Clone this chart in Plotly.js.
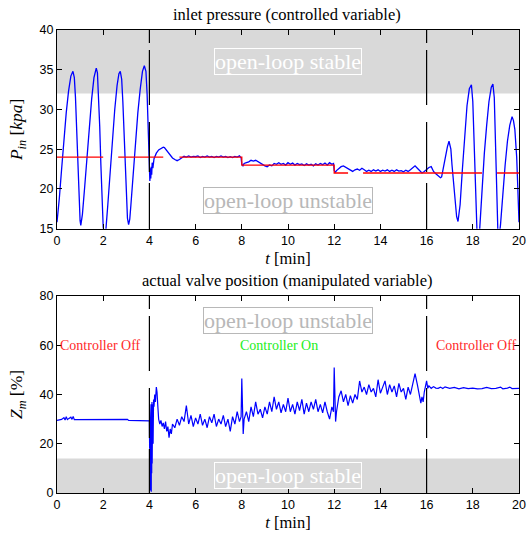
<!DOCTYPE html>
<html>
<head>
<meta charset="utf-8">
<script src="https://cdn.plot.ly/plotly-3.0.1.min.js"></script>
<style>html,body{margin:0;padding:0;background:#fff;}#chart{width:527px;height:537px;}</style>
</head>
<body>
<div id="chart"></div>
<script>
// ---- inlet pressure P_in [kPa] vs time [min] ----
const t_p = [
  0,0.05,0.1,0.2,0.3,0.4,0.5,0.6,0.69,0.75,0.8,0.85,0.9,0.95,
  1.0,1.03,1.1,1.2,1.3,1.4,1.5,1.6,1.7,1.75,1.8,1.85,1.9,1.95,
  2.0,2.06,2.12,2.2,2.3,2.4,2.5,2.6,2.68,2.74,2.8,2.85,2.9,2.95,
  3.0,3.05,3.1,3.15,3.2,3.3,3.4,3.5,3.6,3.7,3.78,3.85,3.9,3.95,3.98,
  4.0,4.02,4.04,4.06,4.08,4.1,4.12,4.15,4.2,4.3,4.4,4.5,4.6,4.65,4.7,4.8,4.9,5.0,5.1,5.2,5.3,5.4,
  5.5,5.6,5.7,5.8,5.9,6.0,6.1,6.2,6.3,6.4,6.5,6.6,6.7,6.8,6.9,7.0,7.1,7.2,7.3,7.4,7.5,7.6,7.7,7.8,7.9,7.97,
  8.0,8.05,8.1,8.2,8.3,8.4,8.5,8.6,8.7,8.8,8.9,9.0,9.1,9.2,9.3,9.4,9.5,9.6,9.7,9.8,9.9,
  10.0,10.1,10.2,10.3,10.4,10.5,10.6,10.7,10.8,10.9,11.0,11.1,11.2,11.3,11.4,11.5,11.6,11.7,11.8,11.9,11.97,
  12.0,12.05,12.1,12.2,12.3,12.4,12.5,12.6,12.7,12.8,12.9,13.0,13.1,13.2,13.3,13.4,13.5,13.6,13.7,13.8,13.9,
  14.0,14.1,14.2,14.3,14.4,14.5,14.6,14.7,14.8,14.9,15.0,15.1,15.2,15.3,15.4,15.5,15.6,15.7,15.8,15.9,
  16.0,16.1,16.2,16.3,16.4,16.5,16.6,16.65,16.7,16.8,16.9,16.97,17.05,17.1,17.2,17.3,17.36,17.45,17.55,17.65,17.75,17.85,17.94,
  18.0,18.05,18.1,18.15,18.2,18.3,18.4,18.5,18.6,18.7,18.8,18.87,18.93,19.0,19.05,19.1,19.2,19.3,19.4,19.5,19.6,19.7,19.76,19.82,19.9,19.95,20.0
];
const p_in = [
  15.8,17,18.8,22.5,26.3,29.6,32.3,34.2,34.8,34.0,31.5,27.5,23,19,
  16,15.4,16.8,20.3,24.2,28,31.3,34,35.2,34.6,32,27.8,23,18.5,
  15.2,14,15,18,22.2,26.3,30,33,34.5,34.8,33.8,31,27,22.5,
  18.8,16.3,15.5,16.2,18,22,26,29.6,32.5,34.8,35.5,34.8,32,28,25,
  23,21,22.6,21.3,22.8,21.8,23.3,22.6,23.8,24.5,24.9,25.1,25.25,25.2,25,24.6,24.2,23.9,23.7,23.55,23.7,23.9,
  24.1,24.0,24.15,24.0,24.1,24.05,24.15,23.95,24.1,24.0,24.15,24.0,24.1,23.95,24.1,24.0,24.15,24.0,24.1,23.95,24.05,23.95,24.1,24.0,24.15,23.9,
  23.1,22.9,23.2,23.3,23.4,23.6,23.5,23.6,23.4,23.2,23.0,22.9,22.8,23.0,22.9,23.2,23.1,23.3,23.1,23.2,23.0,
  23.3,23.1,23.25,23.0,23.2,23.05,23.15,22.95,23.15,23.0,23.1,22.9,23.15,23.0,23.2,23.05,23.25,23.0,23.3,23.1,23.2,
  22.3,22.1,22.3,22.6,22.8,22.9,22.7,22.5,22.3,22.2,22.4,22.5,22.35,22.6,22.4,22.2,22.35,22.2,22.4,22.25,22.4,
  22.2,22.35,22.25,22.4,22.2,22.35,22.2,22.4,22.25,22.3,22.15,22.35,22.2,22.4,22.6,22.9,22.6,22.3,22.0,22.2,
  22.5,22.7,22.8,22.2,21.9,21.6,21.4,21.5,22.3,23.8,25.3,26.0,25.0,23,19.5,16.5,15.9,18,22.5,27,30.5,32.6,33.1,
  31,26,20,15.5,13,15,20,24.5,28,31,32.8,33.2,31.5,25,18,13,15.5,19.5,23,26,28,29.1,28.6,27.5,24,20,15.8
];
// ---- setpoint (red, dashed segments) ----
const t_sp = [0,2.0,null,2.65,4.6,null,5.3,8.0,8.0,12.0,12.0,12.6,null,13.25,18.4,null,19.05,20];
const v_sp = [24,24,null,24,24,null,24,24,23,23,22,22,null,22,22,null,22,22];

// ---- actual valve position Z_m [%] vs time [min] ----
const t_z = [
  0,0.1,0.2,0.3,0.35,0.4,0.45,0.5,0.6,0.65,0.7,0.75,0.8,1.0,1.5,2.0,2.5,3.0,3.05,3.1,3.5,3.98,
  4.0,4.01,4.02,4.03,4.04,4.05,4.06,4.07,4.08,4.09,4.1,4.11,4.12,4.14,4.16,4.18,4.2,4.23,4.26,4.3,4.33,4.36,4.4,4.45,4.5,4.55,4.6,4.65,4.7,4.75,4.8,4.85,4.9,4.95,
  5.0,5.1,5.2,5.3,5.4,5.5,5.6,5.7,5.8,5.9,6.0,6.1,6.2,6.3,6.4,6.5,6.6,6.7,6.8,6.9,7.0,7.1,7.2,7.3,7.4,7.5,7.6,7.7,7.8,7.9,7.97,
  8.0,8.03,8.06,8.1,8.2,8.3,8.4,8.5,8.6,8.7,8.8,8.9,9.0,9.1,9.2,9.3,9.4,9.5,9.6,9.7,9.8,9.9,
  10.0,10.1,10.2,10.3,10.4,10.5,10.6,10.7,10.8,10.9,11.0,11.1,11.2,11.3,11.4,11.5,11.6,11.7,11.8,11.9,11.97,
  12.0,12.03,12.06,12.1,12.2,12.3,12.4,12.5,12.6,12.7,12.8,12.9,13.0,13.1,13.2,13.3,13.4,13.5,13.6,13.7,13.8,13.9,
  14.0,14.1,14.2,14.3,14.4,14.5,14.6,14.7,14.8,14.9,15.0,15.1,15.2,15.3,15.4,15.5,15.6,15.7,15.75,15.8,15.85,15.9,15.95,16.0,16.05,16.1,16.2,16.3,16.4,
  16.5,16.6,16.7,16.8,17.0,17.2,17.4,17.6,17.8,18.0,18.2,18.4,18.6,18.8,19.0,19.2,19.3,19.5,19.6,19.7,19.9,20.0
];
const z_m = [
  29.5,29.8,29.9,30.6,29.6,31.0,29.8,30.2,30.8,29.9,31.1,29.8,29.8,29.8,29.7,29.7,29.7,29.6,29.9,29.5,29.5,29.4,
  29.3,18,2,25,1,30,8,36,0.5,33,8,37,12,36,20,38,35,40,37,43,41,36,30,28,29.5,27,28.5,26,29,25,27,22.5,26,24,
  28,26.5,30,27.5,31,29,35.5,28,31.5,27,30.5,28,32,27.5,30,26.5,31,28.5,32,27,30,28,31.5,27,30,25,31,28,33,29,31,
  46.5,30,24,30,33,29,35,31,37,32,34,30.5,35,32,37,33,39,34,37,32.5,36,33,
  38.5,33,36,32,37,33.5,38,32,36.5,33,37,34,38,33,36,32.5,37,33,30,35,33,
  51,34,29,33,39,41.5,37,40,35.5,39.5,36.5,40,38,45.5,41,43,40,44,41,42.5,39,46,
  40.5,43,45.5,40,44,41,43.5,39,44.5,41,42.5,38,43,40,44,48.5,44,38.5,36.5,39,37,41,43.5,45.5,42.5,43.5,42.5,43.2,42.6,
  42.5,43,42.4,43.1,42.5,42.9,42.3,42.8,42.4,42.6,42.3,42.4,42.9,42.4,42.5,43,42.3,42.6,43,42.4,42.5,42.5
];

// ---- region limits / switch times / labels ----
const stableTop = [32, 40];   // open-loop stable band, pressure
const stableZ = [0, 14];      // open-loop stable band, valve position
const switchTimes = [4, 16];
const modeLabels = ['Controller Off', 'Controller On', 'Controller Off'];
const modeTimes = [1.87, 9.62, 18.15];
const modeColors = ['#ff2a2a', '#22ee22', '#ff2a2a'];

const serif = 'Liberation Serif, Times New Roman, serif';
const sans = 'Liberation Sans, Arial, sans-serif';

const traces = [
  {x: t_p, y: p_in, type: 'scatter', mode: 'lines', xaxis: 'x', yaxis: 'y',
   line: {color: '#0000ff', width: 1.3}},
  {x: t_sp, y: v_sp, type: 'scatter', mode: 'lines', xaxis: 'x', yaxis: 'y',
   line: {color: '#ff0000', width: 1.3}, connectgaps: false},
  {x: t_z, y: z_m, type: 'scatter', mode: 'lines', xaxis: 'x2', yaxis: 'y2',
   line: {color: '#0000ff', width: 1.2}}
];

const dashPat = '13px,7px,55px,17px,50px,11px,60px,20px';
const shapes = [
  {type: 'rect', xref: 'x domain', yref: 'y', x0: 0, x1: 1, y0: stableTop[0], y1: stableTop[1],
   fillcolor: '#d9d9d9', line: {width: 0}, layer: 'below'},
  {type: 'rect', xref: 'x2 domain', yref: 'y2', x0: 0, x1: 1, y0: stableZ[0], y1: stableZ[1],
   fillcolor: '#d9d9d9', line: {width: 0}, layer: 'below'}
];
switchTimes.forEach(function (ts) {
  shapes.push({type: 'line', xref: 'x', yref: 'y domain', x0: ts, x1: ts, y0: 1, y1: 0,
    line: {color: '#000', width: 1.2, dash: dashPat}});
  shapes.push({type: 'line', xref: 'x2', yref: 'y2 domain', x0: ts, x1: ts, y0: 1, y1: 0,
    line: {color: '#000', width: 1.2, dash: dashPat}});
});

const annotations = [
  {text: 'inlet pressure (controlled variable)', xref: 'paper', yref: 'paper', x: 0.497, y: 1,
   yanchor: 'bottom', yshift: 4, showarrow: false, font: {family: serif, size: 16.5, color: '#000'}},
  {text: 'actual valve position (manipulated variable)', xref: 'paper', yref: 'paper', x: 0.497, y: 0.4255,
   yanchor: 'bottom', yshift: 4, showarrow: false, font: {family: serif, size: 16.5, color: '#000'}},
  {text: 'open-loop stable', xref: 'x', yref: 'y', x: 10, y: 36, showarrow: false,
   font: {family: serif, size: 22, color: '#ffffff'}, bordercolor: '#ffffff', borderwidth: 1, borderpad: 0},
  {text: 'open-loop unstable', xref: 'x', yref: 'y', x: 10, y: 18.55, showarrow: false,
   font: {family: serif, size: 22, color: '#b8b8b8'}, bordercolor: '#b8b8b8', borderwidth: 1, borderpad: 0},
  {text: 'open-loop unstable', xref: 'x2', yref: 'y2', x: 10, y: 70, showarrow: false,
   font: {family: serif, size: 22, color: '#b8b8b8'}, bordercolor: '#b8b8b8', borderwidth: 1, borderpad: 0},
  {text: 'open-loop stable', xref: 'x2', yref: 'y2', x: 10, y: 7.1, showarrow: false,
   font: {family: serif, size: 22, color: '#ffffff'}, bordercolor: '#ffffff', borderwidth: 1, borderpad: 0}
];
modeLabels.forEach(function (lab, i) {
  annotations.push({text: lab, xref: 'x2', yref: 'y2', x: modeTimes[i], y: 59.8, showarrow: false,
    font: {family: serif, size: 14, color: modeColors[i]}});
});

function xax(anchor) {
  return {anchor: anchor, domain: [0, 1], range: [0, 20], dtick: 2, tick0: 0,
    ticks: 'inside', ticklen: 5, tickcolor: '#000', mirror: 'ticks', showline: true,
    linecolor: '#000', linewidth: 1, showgrid: false, zeroline: false,
    tickfont: {family: sans, size: 12.5, color: '#000'},
    title: {text: '<i>t</i> [min]', font: {family: serif, size: 16.5, color: '#000'}, standoff: 5}};
}
function yax(anchor, domain, range, dtick, title) {
  return {anchor: anchor, domain: domain, range: range, dtick: dtick,
    ticks: 'inside', ticklen: 5, tickcolor: '#000', mirror: 'ticks', showline: true,
    linecolor: '#000', linewidth: 1, showgrid: false, zeroline: false,
    tickfont: {family: sans, size: 12.5, color: '#000'},
    title: {text: title, font: {family: serif, size: 17.5, color: '#000'}, standoff: 12}};
}

const layout = {
  width: 527, height: 537,
  margin: {l: 57, r: 8, t: 30, b: 44},
  paper_bgcolor: '#fff', plot_bgcolor: '#fff',
  showlegend: false,
  xaxis: xax('y'),
  yaxis: yax('x', [0.571, 1], [15, 40], 5, '<i>P</i><sub><i>in</i></sub> [<i>kpa</i>]'),
  xaxis2: xax('y2'),
  yaxis2: yax('x2', [0, 0.4255], [0, 80], 20, '<i>Z</i><sub><i>m</i></sub> [%]'),
  shapes: shapes,
  annotations: annotations
};

Plotly.newPlot('chart', traces, layout, {displayModeBar: false, staticPlot: true});
</script>
</body>
</html>
